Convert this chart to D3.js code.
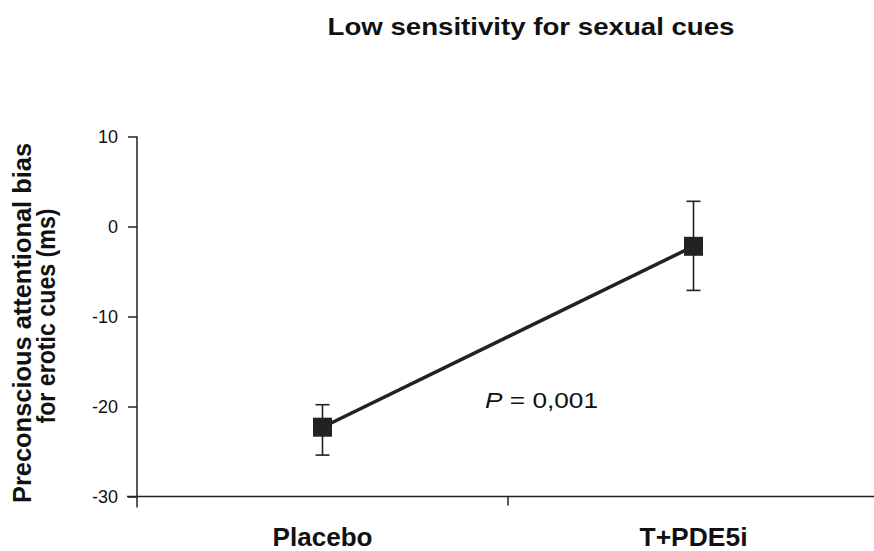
<!DOCTYPE html>
<html><head><meta charset="utf-8">
<script src="https://cdn.jsdelivr.net/npm/d3@7"></script>
<style>body{margin:0;background:#fff;} svg text{font-family:"Liberation Sans",Arial,sans-serif;}</style>
</head><body>
<svg id="c" width="874" height="551"></svg>
<script>
const categories = ["Placebo", "T+PDE5i"];
const means = [-22.3, -2.2];
const upper = [-19.8, 2.8];
const lower = [-25.4, -7.1];
const yTicks = [10, 0, -10, -20, -30];
const title = "Low sensitivity for sexual cues";
const yTitle = ["Preconscious attentional bias", "for erotic cues (ms)"];
const annotation = "0,001";

const svg = d3.select("#c");
const x0 = 137, x1 = 879, yTop = 136.5, yBot = 496.5;
const x = d3.scaleBand().domain(categories).range([x0, x1]);
const y = d3.scaleLinear().domain([-30, 10]).range([yBot, yTop]);
const ink = "#222";
const txt = "#111";

// y axis
const ya = svg.append("g").attr("transform", `translate(${x0},0)`)
  .call(d3.axisLeft(y).tickValues(yTicks).tickSize(9).tickPadding(10).tickFormat(d => String(d)));
ya.select(".domain").remove();
ya.selectAll(".tick line").attr("stroke", ink).attr("stroke-width", 1.5);
ya.selectAll(".tick text").style("font-size", "18px").attr("fill", txt);
svg.append("line").attr("x1", x0).attr("x2", x0).attr("y1", yTop).attr("y2", yBot + 11)
  .attr("stroke", ink).attr("stroke-width", 1.5);

// x axis
svg.append("line").attr("x1", x0 - 10).attr("x2", x1).attr("y1", yBot).attr("y2", yBot)
  .attr("stroke", ink).attr("stroke-width", 1.5);
categories.slice(1).forEach(c => {
  svg.append("line").attr("x1", x(c)).attr("x2", x(c)).attr("y1", yBot).attr("y2", yBot + 9)
    .attr("stroke", ink).attr("stroke-width", 1.5);
});
const catLen = {"Placebo": 100, "T+PDE5i": 108};
svg.selectAll(".xl").data(categories).enter().append("text")
  .attr("x", d => x(d) + x.bandwidth() / 2).attr("y", 546)
  .attr("text-anchor", "middle").style("font-size", "26px").attr("font-weight", "bold")
  .attr("textLength", d => catLen[d]).attr("lengthAdjust", "spacingAndGlyphs")
  .attr("fill", txt).text(d => d);

const cx = d => x(d) + x.bandwidth() / 2;

// line
svg.append("path").datum(categories.map((c, i) => [cx(c), y(means[i])]))
  .attr("d", d3.line()).attr("stroke", ink).attr("stroke-width", 3.5).attr("fill", "none");

// error bars
categories.forEach((c, i) => {
  const g = svg.append("g").attr("stroke", ink).attr("stroke-width", 1.6);
  g.append("line").attr("x1", cx(c)).attr("x2", cx(c)).attr("y1", y(upper[i])).attr("y2", y(lower[i]));
  [upper[i], lower[i]].forEach(v => g.append("line").attr("x1", cx(c) - 7).attr("x2", cx(c) + 7)
    .attr("y1", y(v)).attr("y2", y(v)));
});
// markers
svg.selectAll(".m").data(categories).enter().append("rect")
  .attr("x", d => cx(d) - 9.5).attr("y", (d, i) => y(means[i]) - 9.5)
  .attr("width", 19).attr("height", 19).attr("fill", ink);

// annotation
const t = svg.append("text").attr("x", 485).attr("y", 408).style("font-size", "22px").attr("fill", txt)
  .attr("textLength", 113).attr("lengthAdjust", "spacingAndGlyphs");
t.append("tspan").attr("font-style", "italic").text("P");
t.append("tspan").text(" = " + annotation);

// title
svg.append("text").attr("x", 531).attr("y", 34.5).attr("text-anchor", "middle")
  .style("font-size", "24px").attr("font-weight", "bold").attr("fill", txt)
  .attr("textLength", 407).attr("lengthAdjust", "spacingAndGlyphs").text(title);

// y title
const yLen = [360, 215];
const yCenter = [323, 316];
const yBase = [31, 55];
yTitle.forEach((l, i) => {
  svg.append("text").attr("transform", `translate(${yBase[i]},${yCenter[i]}) rotate(-90)`)
    .attr("text-anchor", "middle").style("font-size", "25px").attr("font-weight", "bold").attr("fill", txt)
    .attr("textLength", yLen[i]).attr("lengthAdjust", "spacingAndGlyphs").text(l);
});
</script>
</body></html>
